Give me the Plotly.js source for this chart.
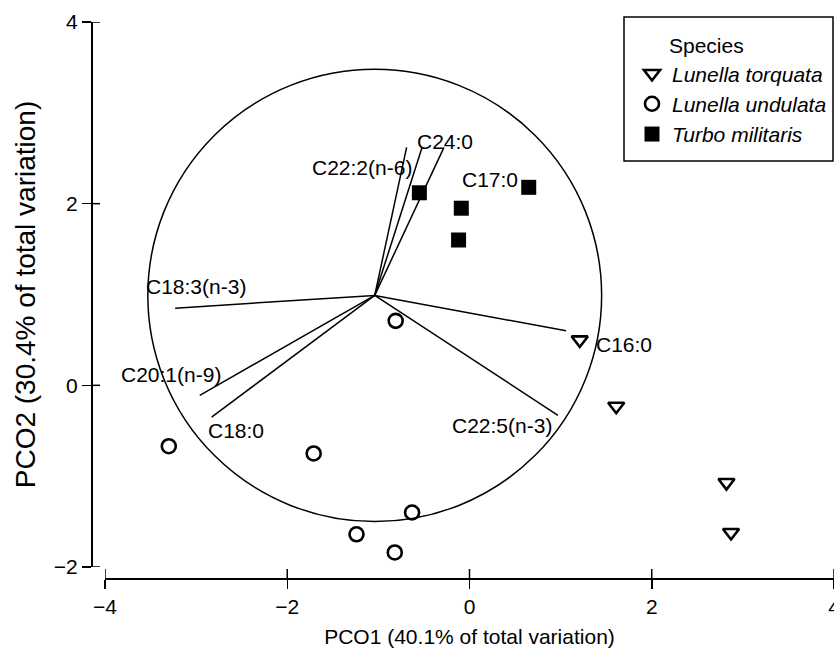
<!DOCTYPE html>
<html>
<head>
<meta charset="utf-8">
<script src="https://cdn.plot.ly/plotly-3.0.1.min.js"></script>
<style>html,body{margin:0;padding:0;background:#fff;}#chart{width:834px;height:654px;}</style>
</head>
<body>
<div id="chart"></div>
<script>
// ---- data ----
const speciesNames = ['Lunella torquata', 'Lunella undulata', 'Turbo militaris'];
const torquataX = [1.21, 1.61, 2.82, 2.87];
const torquataY = [0.50, -0.23, -1.07, -1.62];
const undulataX = [-3.30, -1.71, -0.81, -0.63, -1.24, -0.82];
const undulataY = [-0.67, -0.75, 0.71, -1.40, -1.64, -1.84];
const militarisX = [-0.55, -0.09, -0.12, 0.65];
const militarisY = [2.12, 1.95, 1.60, 2.18];

const vectorNames = ['C18:3(n-3)', 'C20:1(n-9)', 'C18:0', 'C16:0', 'C22:5(n-3)', 'C22:2(n-6)', 'C24:0', 'C17:0'];
const vectorTipX = [-3.23, -2.96, -2.83, 1.06, 0.97, -0.69, -0.52, -0.28];
const vectorTipY = [0.85, -0.11, -0.35, 0.60, -0.33, 2.62, 2.62, 2.62];
const vectorLabelX = [-3.00, -3.28, -2.56, 1.69, 0.36, -1.18, -0.27, 0.22];
const vectorLabelY = [1.09, 0.12, -0.50, 0.45, -0.44, 2.40, 2.68, 2.27];
const vectorOrigin = [-1.04, 0.99];
const circleRadius = 2.49;

const xTicks = [-4, -2, 0, 2, 4];
const yTicks = [-2, 0, 2, 4];
const xTitle = 'PCO1 (40.1% of total variation)';
const yTitle = 'PCO2 (30.4% of total variation)';
const legendTitle = 'Species';

// ---- layout geometry ----
const W = 834, H = 654;
const M = {l: 91, r: 0, t: 22, b: 76};
const pw = W - M.l - M.r, ph = H - M.t - M.b;
const px2paperX = p => (p - M.l) / pw;
const px2paperY = p => (H - M.b - p) / ph;
const TICKLEN = 9;

const FONT = 'Liberation Sans, Arial, Helvetica, sans-serif';
const black = '#000';
const minusLabel = v => v < 0 ? '\u2212' + Math.abs(v) : String(v);

// vector segments
const vx = [], vy = [];
vectorTipX.forEach((tx, i) => {
  vx.push(vectorOrigin[0], tx, null);
  vy.push(vectorOrigin[1], vectorTipY[i], null);
});

const traces = [
  {x: vx, y: vy, mode: 'lines', line: {color: black, width: 1.5}, showlegend: false, hoverinfo: 'skip', cliponaxis: false},
  {x: torquataX, y: torquataY, mode: 'markers', name: '<i>' + speciesNames[0] + '</i>',
   marker: {symbol: 'triangle-down-open', size: 14, color: black, line: {width: 2.6, color: black}}, cliponaxis: false},
  {x: undulataX, y: undulataY, mode: 'markers', name: '<i>' + speciesNames[1] + '</i>',
   marker: {symbol: 'circle-open', size: 14, color: black, line: {width: 2.6, color: black}}, cliponaxis: false},
  {x: militarisX, y: militarisY, mode: 'markers', name: '<i>' + speciesNames[2] + '</i>',
   marker: {symbol: 'square', size: 15, color: black, line: {width: 0}}, cliponaxis: false}
];

const annotations = vectorNames.map((n, i) => ({
  x: vectorLabelX[i], y: vectorLabelY[i], xref: 'x', yref: 'y', text: n, showarrow: false,
  xanchor: 'center', yanchor: 'middle', font: {family: FONT, size: 21, color: black}
}));

// inner halves of the crossing ticks
const tickShapes = [];
xTicks.forEach(v => tickShapes.push({type: 'line', xref: 'x', yref: 'paper', x0: v, x1: v,
  y0: 0, y1: TICKLEN / ph, line: {color: black, width: 1.5}}));
yTicks.forEach(v => tickShapes.push({type: 'line', xref: 'paper', yref: 'y', y0: v, y1: v,
  x0: 0, x1: TICKLEN / pw, line: {color: black, width: 1.5}}));

const commonAxis = {
  showgrid: false, zeroline: false, color: black, tickcolor: black,
  tickwidth: 1.5, ticklen: TICKLEN, linecolor: black, linewidth: 1.5,
  ticklabeloverflow: 'allow'
};

const layout = {
  width: W, height: H,
  margin: M,
  paper_bgcolor: '#fff', plot_bgcolor: 'rgba(0,0,0,0)',
  font: {family: FONT, size: 20, color: black},
  showlegend: true,
  legend: {
    x: px2paperX(632), y: px2paperY(26), xanchor: 'left', yanchor: 'top',
    bgcolor: 'rgba(0,0,0,0)', borderwidth: 0,
    font: {family: FONT, size: 21, color: black},
    title: {text: '\u00a0\u00a0\u00a0\u00a0\u00a0\u00a0' + legendTitle, font: {family: FONT, size: 21, color: black}},
    itemclick: false, tracegroupgap: 0
  },
  xaxis: Object.assign({}, commonAxis, {
    domain: [px2paperX(105), 1], range: [-4, 4], anchor: 'free', position: 0,
    showline: true, ticks: 'outside', tickvals: xTicks, ticktext: xTicks.map(minusLabel),
    tickfont: {family: FONT, size: 21, color: black},
    title: {text: xTitle, font: {family: FONT, size: 21, color: black}, standoff: 12}
  }),
  yaxis: Object.assign({}, commonAxis, {
    domain: [px2paperY(567), 1], range: [-2, 4], anchor: 'free', position: 0,
    showline: true, ticks: 'outside', tickvals: yTicks, ticktext: yTicks.map(minusLabel),
    tickfont: {family: FONT, size: 21, color: black},
    title: {text: yTitle, font: {family: FONT, size: 28, color: black}, standoff: 8}
  }),
  shapes: [
    {type: 'circle', xref: 'x', yref: 'y',
     x0: vectorOrigin[0] - circleRadius, x1: vectorOrigin[0] + circleRadius,
     y0: vectorOrigin[1] - circleRadius, y1: vectorOrigin[1] + circleRadius,
     line: {color: black, width: 1.5}, layer: 'below'},
    {type: 'rect', xref: 'paper', yref: 'paper',
     x0: px2paperX(624), x1: px2paperX(833), y0: px2paperY(161), y1: px2paperY(17),
     line: {color: black, width: 1.5}}
  ].concat(tickShapes),
  annotations: annotations
};

Plotly.newPlot('chart', traces, layout, {displayModeBar: false, staticPlot: true});
</script>
</body>
</html>
